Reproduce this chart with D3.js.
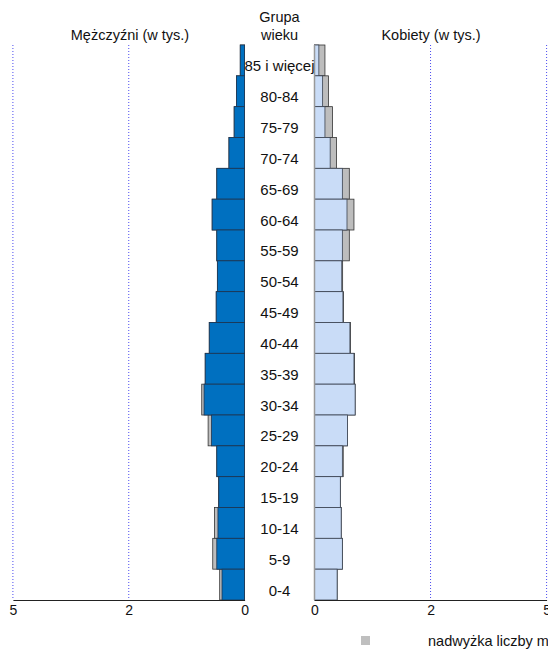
<!DOCTYPE html>
<html><head><meta charset="utf-8">
<script src="https://cdn.jsdelivr.net/npm/d3@7"></script>
<style>body{margin:0;background:#fff;}svg{display:block;font-family:"Liberation Sans",Arial,sans-serif;}</style>
</head><body>
<script>
const ageGroups = ["85 i więcej","80-84","75-79","70-74","65-69","60-64","55-59","50-54","45-49","40-44","35-39","30-34","25-29","20-24","15-19","10-14","5-9","0-4"];
const men   = [0.075,0.14,0.18,0.27,0.48,0.56,0.48,0.47,0.49,0.61,0.68,0.74,0.63,0.48,0.45,0.52,0.55,0.43];
const women = [0.18,0.24,0.31,0.38,0.60,0.68,0.60,0.485,0.50,0.62,0.69,0.70,0.57,0.495,0.445,0.46,0.48,0.39];
const tickValues = [0,2,4];
const tickLabels = ["0","2","5"];

const W=548,H=651;
const svg=d3.select("body").append("svg").attr("width",W).attr("height",H);
const xL=d3.scaleLinear().domain([0,4]).range([244.6,12.9]);
const xR=d3.scaleLinear().domain([0,4]).range([314.5,546.6]);
const y=d3.scaleBand().domain(ageGroups).range([45,600]).padding(0);

// grid
[xL,xR].forEach(sc=>{
  svg.append("g").selectAll("line").data(tickValues.filter(v=>v>0)).join("line")
    .attr("x1",d=>sc(d)).attr("x2",d=>sc(d)).attr("y1",45).attr("y2",600)
    .attr("stroke","#4b4bf0").attr("stroke-width",1).attr("stroke-dasharray","1,2");
});

const rows=ageGroups.map((g,i)=>({g,m:men[i],w:women[i],mn:Math.min(men[i],women[i])}));
const BLUE="#0070C0",LBLUE="#C9DCF7",GREY="#BDBDBD";
// left
const gl=svg.append("g");
gl.selectAll("rect.g").data(rows).join("rect").attr("class","g")
  .attr("x",d=>xL(d.m)).attr("width",d=>xL(0)-xL(d.m)).attr("y",d=>y(d.g)).attr("height",y.bandwidth())
  .attr("fill",GREY).attr("stroke","#333").attr("stroke-width",0.8);
gl.selectAll("rect.b").data(rows).join("rect").attr("class","b")
  .attr("x",d=>xL(d.mn)).attr("width",d=>xL(0)-xL(d.mn)).attr("y",d=>y(d.g)).attr("height",y.bandwidth())
  .attr("fill",BLUE).attr("stroke","#1f3550").attr("stroke-width",0.8);
// right
const gr=svg.append("g");
gr.selectAll("rect.g").data(rows).join("rect").attr("class","g")
  .attr("x",xR(0)).attr("width",d=>xR(d.w)-xR(0)).attr("y",d=>y(d.g)).attr("height",y.bandwidth())
  .attr("fill",GREY).attr("stroke","#333").attr("stroke-width",0.8);
gr.selectAll("rect.b").data(rows).join("rect").attr("class","b")
  .attr("x",xR(0)).attr("width",d=>xR(d.mn)-xR(0)).attr("y",d=>y(d.g)).attr("height",y.bandwidth())
  .attr("fill",LBLUE).attr("stroke","#3a4250").attr("stroke-width",0.8);
svg.append("line").attr("x1",xR(0)).attr("x2",xR(0)).attr("y1",45).attr("y2",600).attr("stroke","#999").attr("stroke-width",1.5);

// axes
const fmt=d=>tickLabels[tickValues.indexOf(d)];
[xL,xR].forEach(sc=>{
  const a=svg.append("g").attr("transform","translate(0,600)")
    .call(d3.axisBottom(sc).tickValues(tickValues).tickFormat(fmt).tickSize(0).tickPadding(5));
  a.select(".domain").attr("stroke","#222");
  a.selectAll("text").attr("font-size",14).attr("fill","#111").attr("font-family","Liberation Sans, Arial, sans-serif");
});

// age labels
svg.append("g").selectAll("text").data(ageGroups).join("text")
  .attr("x",279.5).attr("y",d=>y(d)+y.bandwidth()/2+11).attr("text-anchor","middle")
  .attr("font-size",15).attr("fill","#111").text(d=>d);

// headers
const hdr=[["Mężczyźni (w tys.)",130,40],["Kobiety (w tys.)",431,40],["Grupa",279.5,22],["wieku",279.5,40]];
svg.append("g").selectAll("text").data(hdr).join("text")
  .attr("x",d=>d[1]).attr("y",d=>d[2]).attr("text-anchor","middle").attr("font-size",14.5).attr("fill","#111").text(d=>d[0]);

// legend
svg.append("rect").attr("x",361).attr("y",636).attr("width",9).attr("height",9).attr("fill","#BFBFBF");
svg.append("text").attr("x",428).attr("y",646).attr("font-size",14.5).attr("fill","#111").text("nadwyżka liczby mężczyzn");
</script>
</body></html>
